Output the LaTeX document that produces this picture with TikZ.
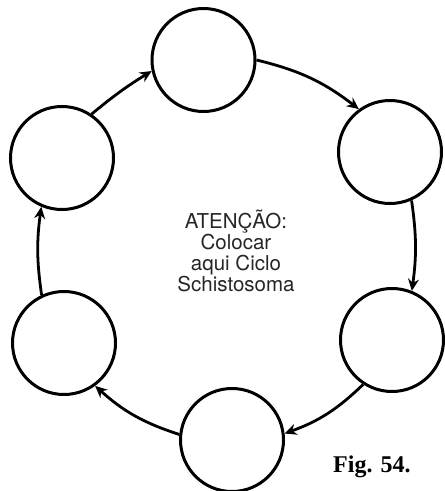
\documentclass[tikz,border=0pt]{standalone}
\usepackage{fontspec}
\setmainfont{Liberation Serif}
\newfontfamily\labelfont{TeX Gyre Heros}
\usetikzlibrary{arrows.meta}
\begin{document}
\begin{tikzpicture}[x=1pt,y=-1pt,
  stage/.style={circle,draw,line width=3pt,minimum size=103pt,inner sep=0pt},
  cyc/.style={line width=2.8pt,-{Stealth[length=12pt,width=11pt,inset=4pt]},bend left=12}]
\useasboundingbox (0,0) rectangle (445,491);
\node[stage] (top) at (203.5,60) {};
\node[stage] (ru) at (390,152) {};
\node[stage] (rl) at (392,340) {};
\node[stage] (bot) at (232,440) {};
\node[stage] (ll) at (64,343) {};
\node[stage] (lu) at (62,158) {};
\draw[cyc,bend left=4] (lu.56) to (top.192);
\draw[cyc] (top.0) to (ru.126);
\draw[cyc,bend left=8] (ru.294) to (rl.68);
\draw[cyc] (rl.237) to (bot.7);
\draw[cyc] (bot.174) to (ll.306);
\draw[cyc,bend left=8] (ll.115) to (lu.247);
\node[anchor=north,align=center,inner sep=0pt,font=\labelfont\fontsize{20.5pt}{21pt}\selectfont,text=black!85]
  (note) at (236,210) {ATENÇÃO:\\Colocar\\aqui Ciclo\\Schistosoma};
\node[anchor=base west,inner sep=0pt,font=\bfseries\fontsize{24pt}{26pt}\selectfont] (fig) at (333,472) {Fig. 54.};
\end{tikzpicture}
\end{document}
